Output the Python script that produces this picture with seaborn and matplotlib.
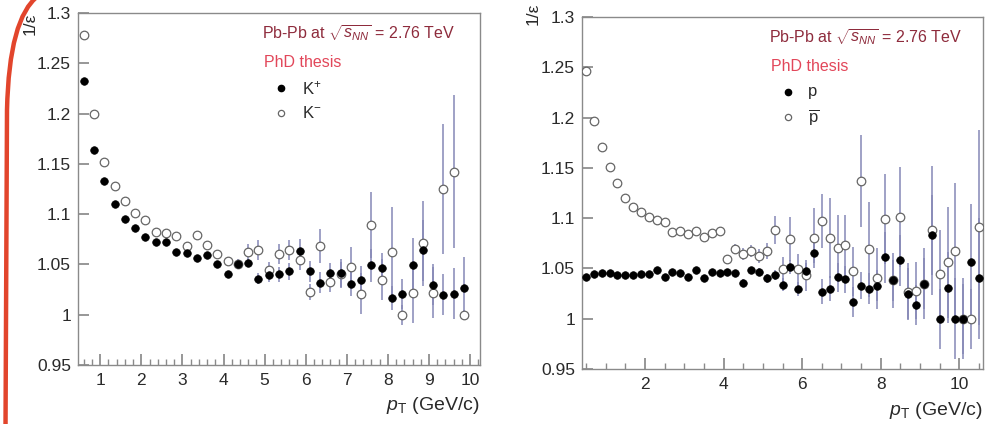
import numpy as np
import pandas as pd
import matplotlib
matplotlib.use("Agg")
import matplotlib.pyplot as plt
import seaborn as sns
from matplotlib.ticker import FixedLocator, MultipleLocator, FuncFormatter
from matplotlib.path import Path
from matplotlib.patches import PathPatch

# ---- kaons: 1/efficiency vs pT ----
pt_kaon = [0.6 + 0.25 * i for i in range(38)]
kplus = [1.232, 1.164, 1.133, 1.110, 1.095, 1.086, 1.077, 1.072, 1.072, 1.062,
         1.061, 1.056, 1.059, 1.050, 1.040, 1.050, 1.051, 1.036, 1.039, 1.040,
         1.043, 1.063, 1.043, 1.032, 1.041, 1.041, 1.031, 1.035, 1.049, 1.046,
         1.017, 1.021, 1.049, 1.064, 1.030, 1.020, 1.021, 1.027]
kplus_err = [0.001] * 14 + [0.002, 0.003, 0.004, 0.005, 0.006, 0.007, 0.008, 0.012,
             0.010, 0.010, 0.010, 0.014, 0.012, 0.013, 0.016, 0.015, 0.012, 0.015,
             0.027, 0.030, 0.020, 0.020, 0.025, 0.030]
kminus = [1.278, 1.200, 1.152, 1.128, 1.113, 1.101, 1.094, 1.082, 1.081, 1.078,
          1.068, 1.079, 1.069, 1.060, 1.053, 1.050, 1.062, 1.064, 1.044, 1.060,
          1.064, 1.054, 1.023, 1.068, 1.033, 1.040, 1.047, 1.021, 1.089, 1.035,
          1.062, 1.000, 1.022, 1.071, 1.022, 1.125, 1.142, 1.000]
kminus_err = [0.001] * 13 + [0.003, 0.004, 0.005, 0.008, 0.010, 0.008, 0.010, 0.010,
              0.010, 0.008, 0.017, 0.010, 0.012, 0.020, 0.020, 0.033, 0.020, 0.045,
              0.010, 0.030, 0.042, 0.025, 0.065, 0.076, 0.005]

# ---- protons: 1/efficiency vs pT ----
pt_proton = [0.5 + 0.2 * i for i in range(51)]
proton = [1.041, 1.044, 1.045, 1.045, 1.043, 1.043, 1.043, 1.044, 1.044, 1.048,
          1.041, 1.046, 1.045, 1.041, 1.048, 1.040, 1.046, 1.045, 1.046, 1.045,
          1.036, 1.048, 1.046, 1.040, 1.043, 1.034, 1.051, 1.030, 1.047, 1.065,
          1.027, 1.030, 1.041, 1.039, 1.017, 1.033, 1.030, 1.033, 1.061, 1.038,
          1.058, 1.025, 1.014, 1.035, 1.083, 1.000, 1.031, 1.000, 1.000, 1.056,
          1.040]
proton_err = [0.001] * 18 + [0.002, 0.002, 0.003, 0.003, 0.004, 0.004, 0.005, 0.006,
              0.007, 0.007, 0.008, 0.010, 0.012, 0.012, 0.014, 0.013, 0.015, 0.013,
              0.015, 0.015, 0.025, 0.020, 0.025, 0.025, 0.020, 0.025, 0.040, 0.030,
              0.035, 0.040, 0.035, 0.058, 0.060]
antiproton = [1.246, 1.197, 1.171, 1.151, 1.135, 1.120, 1.111, 1.106, 1.101, 1.098,
              1.096, 1.086, 1.087, 1.084, 1.087, 1.081, 1.085, 1.087, 1.059, 1.069,
              1.064, 1.067, 1.062, 1.067, 1.088, 1.049, 1.079, 1.049, 1.043, 1.080,
              1.097, 1.080, 1.070, 1.073, 1.047, 1.137, 1.069, 1.040, 1.099, 1.038,
              1.101, 1.027, 1.028, 1.035, 1.088, 1.044, 1.056, 1.067, 1.000, 1.000,
              1.091]
antiproton_err = [0.001] * 18 + [0.004, 0.005, 0.006, 0.006, 0.007, 0.008, 0.014, 0.012,
                  0.022, 0.015, 0.015, 0.030, 0.027, 0.040, 0.033, 0.030, 0.024, 0.046,
                  0.047, 0.030, 0.045, 0.027, 0.050, 0.028, 0.028, 0.035, 0.064, 0.044,
                  0.055, 0.068, 0.040, 0.030, 0.097]

y_ticks = [0.95, 1.0, 1.05, 1.1, 1.15, 1.2, 1.25, 1.3]

sns.set_theme(style="white")
plt.rcParams["font.family"] = ["Liberation Sans", "DejaVu Sans"]
plt.rcParams["mathtext.fontset"] = "custom"
plt.rcParams["mathtext.rm"] = "Liberation Sans"
plt.rcParams["mathtext.it"] = "Liberation Sans:italic"
plt.rcParams["mathtext.bf"] = "Liberation Sans:bold"

FRAME = "#8a8a8a"
TEXT = "#2a2a2a"
ERR = "#8587b6"
HOLLOW_EDGE = "#666666"
DARKRED = "#8e2b3c"
LIGHTRED = "#e2475a"

fig = plt.figure(figsize=(9.96, 4.24), dpi=100)
ax_k = fig.add_axes([78 / 996, 59 / 424, 402 / 996, 352 / 424])
ax_p = fig.add_axes([582 / 996, 55 / 424, 401 / 996, 352 / 424])


def draw_panel(ax, x, filled, filled_err, hollow, hollow_err):
    df = pd.DataFrame({"pt": x, "filled": filled, "ef": filled_err,
                       "hollow": hollow, "eh": hollow_err})
    ax.errorbar(df["pt"], df["hollow"], yerr=df["eh"], fmt="none",
                ecolor=ERR, elinewidth=1.1, capsize=0, zorder=2)
    ax.errorbar(df["pt"], df["filled"], yerr=df["ef"], fmt="none",
                ecolor=ERR, elinewidth=1.1, capsize=0, zorder=2)
    sns.scatterplot(data=df, x="pt", y="hollow", ax=ax, marker="o", s=38,
                    facecolor="white", edgecolor=HOLLOW_EDGE, linewidth=0.9,
                    zorder=3, legend=False)
    sns.scatterplot(data=df, x="pt", y="filled", ax=ax, marker="o", s=30,
                    color="black", edgecolor="black", linewidth=0.5,
                    zorder=4, legend=False)
    ax.set_ylim(0.95, 1.3)
    ax.yaxis.set_major_locator(FixedLocator(y_ticks))
    ax.yaxis.set_major_formatter(FuncFormatter(lambda v, _: f"{v:g}"))
    ax.set_xlabel("")
    ax.set_ylabel("")
    for side in ["left", "bottom", "top", "right"]:
        ax.spines[side].set_color(FRAME)
        ax.spines[side].set_linewidth(1.0)
    ax.tick_params(axis="both", which="both", direction="in", color=FRAME,
                   labelcolor=TEXT, labelsize=12.5, top=False, right=False,
                   left=True, bottom=True)
    ax.tick_params(axis="y", which="major", length=8, pad=5)
    ax.tick_params(axis="x", which="major", length=8, pad=6)
    ax.tick_params(axis="x", which="minor", length=4)


draw_panel(ax_k, pt_kaon, kplus, kplus_err, kminus, kminus_err)
ax_k.set_xlim(0.46, 10.24)
ax_k.xaxis.set_major_locator(MultipleLocator(1))
ax_k.xaxis.set_minor_locator(MultipleLocator(0.2))
ax_k.xaxis.set_major_formatter(FuncFormatter(lambda v, _: f"{v:g}"))

draw_panel(ax_p, pt_proton, proton, proton_err, antiproton, antiproton_err)
ax_p.set_xlim(0.4, 10.6)
ax_p.xaxis.set_major_locator(MultipleLocator(2))
ax_p.xaxis.set_minor_locator(MultipleLocator(0.5))
ax_p.xaxis.set_major_formatter(FuncFormatter(lambda v, _: f"{v:g}"))

# axis titles, ROOT style: y title at the top, x title at the right
ax_k.text(-0.118, 1.0, "1/ε", transform=ax_k.transAxes, rotation=90,
          ha="center", va="top", fontsize=12.5, color=TEXT)
ax_p.text(-0.121, 1.04, "1/ε", transform=ax_p.transAxes, rotation=90,
          ha="center", va="top", fontsize=12.5, color=TEXT)
ax_k.text(1.0, -0.114, r"$p_{\mathrm{T}}$ (GeV/c)", transform=ax_k.transAxes,
          ha="right", va="center", fontsize=14, color=TEXT)
ax_p.text(1.0, -0.119, r"$p_{\mathrm{T}}$ (GeV/c)", transform=ax_p.transAxes,
          ha="right", va="center", fontsize=14, color=TEXT)


def panel_labels(ax, x0, lab_filled, lab_hollow):
    ax.text(x0, 0.943, r"Pb-Pb at $\sqrt{s_{NN}}$ = 2.76 TeV", transform=ax.transAxes,
            ha="left", va="center", fontsize=11.5, color=DARKRED)
    ax.text(x0 + 0.005, 0.86, "PhD thesis", transform=ax.transAxes,
            ha="left", va="center", fontsize=11.5, color=LIGHTRED)
    ax.plot([x0 + 0.047], [0.787], marker="o", ms=4.5, color="black",
            transform=ax.transAxes, clip_on=False, linestyle="none")
    ax.plot([x0 + 0.047], [0.715], marker="o", ms=4.5, mfc="white", mec=HOLLOW_EDGE,
            mew=0.9, transform=ax.transAxes, clip_on=False, linestyle="none")
    ax.text(x0 + 0.098, 0.787, lab_filled, transform=ax.transAxes,
            ha="left", va="center", fontsize=12, color=TEXT)
    ax.text(x0 + 0.098, 0.715, lab_hollow, transform=ax.transAxes,
            ha="left", va="center", fontsize=12, color=TEXT)


panel_labels(ax_k, 0.458, r"K$^{+}$", r"K$^{-}$")
panel_labels(ax_p, 0.466, "p", r"$\overline{\mathrm{p}}$")

# red hand-drawn stroke along the left edge of the slide (pixel coords, y from top)
W, H = 996.0, 424.0
stroke_px = [(5.5, 430.0), (7.0, 110.0), (9.0, 18.0), (38.0, -4.0)]
stroke = [(px / W, 1 - py / H) for px, py in stroke_px]
codes = [Path.MOVETO, Path.LINETO, Path.CURVE3, Path.CURVE3]
fig.patches.append(PathPatch(Path(stroke, codes), transform=fig.transFigure,
                             fill=False, edgecolor="#e2452c", linewidth=3.2,
                             capstyle="round"))

fig.savefig("out.png", dpi=100, facecolor="white")
